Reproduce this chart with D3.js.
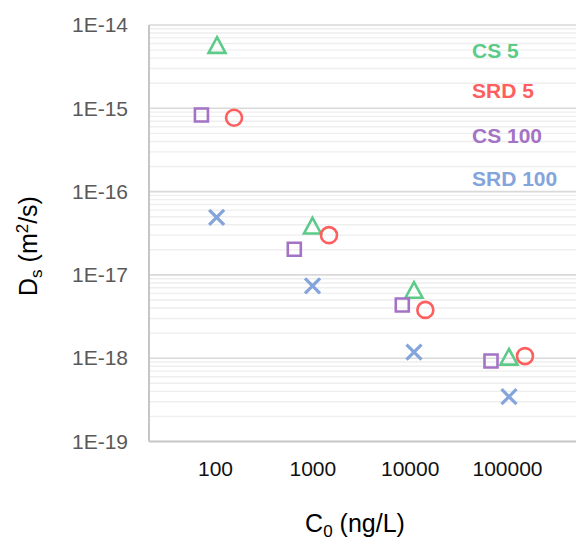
<!DOCTYPE html>
<html>
<head>
<meta charset="utf-8">
<script src="https://cdn.jsdelivr.net/npm/d3@7"></script>
<style>
  body { margin: 0; background: #fff; }
  svg { display: block; font-family: Arial, "Liberation Sans", sans-serif; }
</style>
</head>
<body>
<svg id="chart" width="576" height="541"></svg>
<script>
// series names, as shown in the legend
const seriesNames = ['CS 5', 'SRD 5', 'CS 100', 'SRD 100'];

// C0 (ng/L) and Ds (m2/s) for each series
const cs5C0 = [105, 1004, 11080, 104800];
const cs5Ds = [5.75e-15, 3.9e-17, 6.6e-18, 1.04e-18];

const srd5C0 = [157, 1483, 14490, 153000];
const srd5Ds = [7.7e-16, 3.0e-17, 3.8e-18, 1.06e-18];

const cs100C0 = [72.6, 653, 8400, 68500];
const cs100Ds = [8.3e-16, 2.03e-17, 4.36e-18, 9.25e-19];

const srd100C0 = [104, 1005, 11080, 104800];
const srd100Ds = [4.9e-17, 7.4e-18, 1.18e-18, 3.45e-19];

// axis ticks
const xTicks = [100, 1000, 10000, 100000];
const yTicks = [1e-19, 1e-18, 1e-17, 1e-16, 1e-15, 1e-14];

(function() {

var svg = d3.select('#chart');

var left = 149, right = 576, top = 25, bottom = 441.5;

var x = d3.scaleLog().domain([21, 511600]).range([left, right]);
var y = d3.scaleLog().domain([1e-19, 1e-14]).range([bottom, top]);

// minor gridlines 2..9 in every decade
var minor = [];
yTicks.slice(0, -1).forEach(function(d) {
    for (var m = 2; m <= 9; m++) minor.push(d * m);
});

svg.append('g').selectAll('line')
    .data(minor)
  .enter().append('line')
    .attr('x1', left).attr('x2', right)
    .attr('y1', function(d) { return y(d); })
    .attr('y2', function(d) { return y(d); })
    .attr('stroke', '#eeeeee')
    .attr('stroke-width', 1.4);

svg.append('g').selectAll('line')
    .data(yTicks.slice(1))
  .enter().append('line')
    .attr('x1', left).attr('x2', right)
    .attr('y1', function(d) { return y(d); })
    .attr('y2', function(d) { return y(d); })
    .attr('stroke', '#d9d9d9')
    .attr('stroke-width', 1.6);

// axis lines
svg.append('line')
    .attr('x1', left).attr('x2', left)
    .attr('y1', top).attr('y2', bottom)
    .attr('stroke', '#c6c6c6').attr('stroke-width', 2);
svg.append('line')
    .attr('x1', left).attr('x2', right)
    .attr('y1', bottom).attr('y2', bottom)
    .attr('stroke', '#c6c6c6').attr('stroke-width', 2);

// y axis labels
var yAxis = svg.append('g')
    .attr('transform', 'translate(' + left + ',0)')
    .call(d3.axisLeft(y)
        .tickValues(yTicks)
        .tickSize(0)
        .tickPadding(21)
        .tickFormat(function(d) { return '1E' + Math.round(Math.log10(d)); }));
yAxis.select('.domain').remove();
yAxis.selectAll('text')
    .attr('font-size', 21)
    .attr('font-family', 'Arial, "Liberation Sans", sans-serif')
    .attr('fill', '#595959');

// x axis labels
var xAxis = svg.append('g')
    .attr('transform', 'translate(0,' + bottom + ')')
    .call(d3.axisBottom(x)
        .tickValues(xTicks)
        .tickSize(0)
        .tickPadding(20)
        .tickFormat(function(d) { return String(d); }));
xAxis.select('.domain').remove();
xAxis.selectAll('text')
    .attr('font-size', 21)
    .attr('font-family', 'Arial, "Liberation Sans", sans-serif')
    .attr('fill', '#111');

// marker shapes
var triangle = {
    draw: function(ctx, size) {
        var w = Math.sqrt(size), h = w * 0.92;
        ctx.moveTo(0, -h / 2);
        ctx.lineTo(w / 2, h / 2);
        ctx.lineTo(-w / 2, h / 2);
        ctx.closePath();
    }
};
var cross = {
    draw: function(ctx, size) {
        var a = Math.sqrt(size) / 2;
        ctx.moveTo(-a, -a); ctx.lineTo(a, a);
        ctx.moveTo(a, -a); ctx.lineTo(-a, a);
    }
};

var series = [
    { name: seriesNames[0], c0: cs5C0, ds: cs5Ds, color: '#5ccb89', type: triangle, size: 17 * 17, sw: 2.6 },
    { name: seriesNames[1], c0: srd5C0, ds: srd5Ds, color: '#ff5e5e', type: d3.symbolCircle, size: Math.PI * 64, sw: 2.6 },
    { name: seriesNames[2], c0: cs100C0, ds: cs100Ds, color: '#a473c6', type: d3.symbolSquare, size: 13 * 13, sw: 2.6 },
    { name: seriesNames[3], c0: srd100C0, ds: srd100Ds, color: '#84a4dc', type: cross, size: 15 * 15, sw: 3.2 }
];

series.forEach(function(s) {
    var sym = d3.symbol().type(s.type).size(s.size);
    svg.append('g').selectAll('path')
        .data(s.c0)
      .enter().append('path')
        .attr('d', sym)
        .attr('transform', function(d, i) {
            return 'translate(' + x(d) + ',' + y(s.ds[i]) + ')';
        })
        .attr('fill', 'none')
        .attr('stroke', s.color)
        .attr('stroke-width', s.sw);
});

// legend (text only)
var legendY = [58, 98, 143, 186];
svg.append('g').selectAll('text')
    .data(series)
  .enter().append('text')
    .attr('x', 472)
    .attr('y', function(d, i) { return legendY[i]; })
    .attr('font-size', 21)
    .attr('font-weight', 'bold')
    .attr('fill', function(d) { return d.color; })
    .text(function(d) { return d.name; });

// axis titles
var yt = svg.append('text')
    .attr('transform', 'translate(37,246) rotate(-90)')
    .attr('text-anchor', 'middle')
    .attr('font-size', 25)
    .attr('fill', '#000');
yt.append('tspan').text('D');
yt.append('tspan').attr('font-size', 17).attr('dy', 5).text('s');
yt.append('tspan').attr('dy', -5).text(' (m');
yt.append('tspan').attr('font-size', 17).attr('dy', -9).text('2');
yt.append('tspan').attr('dy', 9).text('/s)');

var xt = svg.append('text')
    .attr('x', 355)
    .attr('y', 532)
    .attr('text-anchor', 'middle')
    .attr('font-size', 25)
    .attr('fill', '#000');
xt.append('tspan').text('C');
xt.append('tspan').attr('font-size', 17).attr('dy', 5).text('0');
xt.append('tspan').attr('dy', -5).text(' (ng/L)');

})();
</script>
</body>
</html>
